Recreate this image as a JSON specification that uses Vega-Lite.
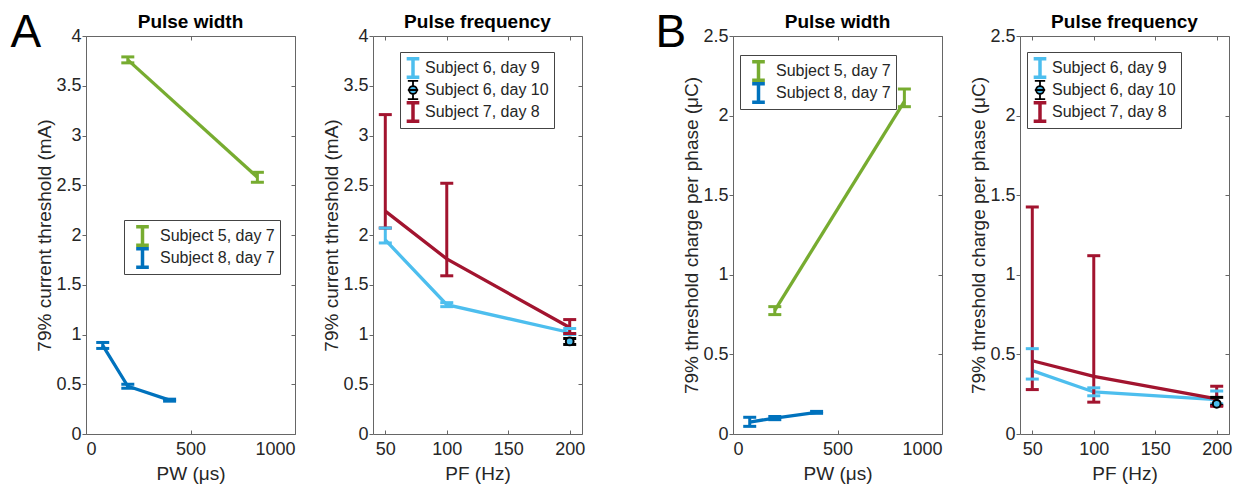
{
  "$schema": "https://vega.github.io/schema/vega-lite/v6.json",
  "padding": {"left": 10, "top": 10, "right": 5, "bottom": 5},
  "config": {
    "font": "Liberation Sans",
    "view": {"stroke": null},
    "axis": {"labelFont": "Liberation Sans", "labelFontSize": 18, "labelColor": "#262626", "titleFont": "Liberation Sans", "titleFontSize": 19, "titleFontWeight": "normal", "titleColor": "#262626", "domainColor": "#666", "tickColor": "#666", "grid": false},
    "title": {"font": "Liberation Sans", "fontSize": 19, "fontWeight": "bold", "color": "#000", "frame": "group", "offset": -5, "baseline": "alphabetic"},
    "legend": {"labelFont": "Liberation Sans", "labelFontSize": 16, "labelColor": "#262626", "symbolSize": 529, "symbolStrokeWidth": 3.5, "symbolOpacity": 1, "padding": 5, "rowPadding": 0, "clipHeight": 22, "strokeColor": "#444", "fillColor": "white", "labelOffset": 4, "symbolType": "M0,-0.8V0.8M-0.55,-0.8H0.55M-0.55,0.8H0.55"},
    "rule": {"opacity": 1},
    "line": {"opacity": 1},
    "point": {"opacity": 1}
  },
  "spacing": 70,
  "resolve": {"scale": {"color": "independent"}, "legend": {"color": "independent"}},
  "hconcat": [
    {
      "title": {"text": "A", "orient": "left", "angle": 0, "anchor": "end", "fontSize": 46, "fontWeight": "normal", "baseline": "alphabetic", "dy": 11, "offset": -36, "frame": "group"},
      "bounds": "flush",
      "spacing": 78,
      "resolve": {"scale": {"color": "independent"}, "legend": {"color": "independent"}},
      "hconcat": [
        {
          "width": 209, "height": 398,
          "title": {"text": "Pulse width"},
          "data": {"values": [
            {"x": 200, "y": 3.76, "lo": 3.73, "hi": 3.79, "series": "Subject 5, day 7"},
            {"x": 820, "y": 2.58, "lo": 2.53, "hi": 2.63, "series": "Subject 5, day 7"},
            {"x": 80, "y": 0.89, "lo": 0.86, "hi": 0.92, "series": "Subject 8, day 7"},
            {"x": 200, "y": 0.48, "lo": 0.46, "hi": 0.50, "series": "Subject 8, day 7"},
            {"x": 400, "y": 0.34, "lo": 0.33, "hi": 0.35, "series": "Subject 8, day 7"}
          ]},
          "resolve": {"axis": {"x": "independent", "y": "independent"}},
          "layer": [
            {"mark": {"type": "line", "strokeWidth": 3.3},
             "encoding": {
               "x": {"field": "x", "type": "quantitative", "scale": {"domain": [0, 1000], "nice": false}, "axis": {"values": [0, 500, 1000], "format": "d", "title": "PW (μs)", "tickSize": -4, "labelPadding": 10, "titlePadding": 6}},
               "y": {"field": "y", "type": "quantitative", "scale": {"domain": [0, 4], "nice": false}, "axis": {"values": [0, 0.5, 1, 1.5, 2, 2.5, 3, 3.5, 4], "format": "~g", "title": "79% current threshold (mA)", "tickSize": 4, "labelPadding": 1, "titlePadding": 1}},
               "color": {"field": "series", "type": "nominal", "scale": {"domain": ["Subject 5, day 7", "Subject 8, day 7"], "range": ["#77AC30", "#0072BD"]},
                 "legend": {"title": null, "orient": "none", "legendX": 38, "legendY": 184, "symbolSize": 529}}
             }},
            {"mark": {"type": "rule", "strokeWidth": 3},
             "encoding": {"x": {"field": "x", "type": "quantitative", "axis": null}, "y": {"field": "lo", "type": "quantitative", "axis": null}, "y2": {"field": "hi"}, "color": {"field": "series", "type": "nominal"}}},
            {"mark": {"type": "point", "shape": "M-1,0H1", "size": 169, "filled": false, "strokeWidth": 3},
             "encoding": {"x": {"field": "x", "type": "quantitative", "axis": null}, "y": {"field": "lo", "type": "quantitative", "axis": null}, "color": {"field": "series", "type": "nominal"}}},
            {"mark": {"type": "point", "shape": "M-1,0H1", "size": 169, "filled": false, "strokeWidth": 3},
             "encoding": {"x": {"field": "x", "type": "quantitative", "axis": null}, "y": {"field": "hi", "type": "quantitative", "axis": null}, "color": {"field": "series", "type": "nominal"}}},
            {"mark": {"type": "point", "opacity": 0},
             "encoding": {
               "x": {"field": "x", "type": "quantitative", "axis": {"orient": "top", "values": [0, 500, 1000], "labels": false, "title": null, "tickSize": -4}},
               "y": {"field": "y", "type": "quantitative", "axis": {"orient": "right", "values": [0, 0.5, 1, 1.5, 2, 2.5, 3, 3.5, 4], "labels": false, "title": null, "tickSize": -4}}
             }}
          ]
        },
        {
          "width": 209, "height": 398,
          "title": {"text": "Pulse frequency"},
          "data": {"values": [
            {"x": 50, "y": 1.95, "lo": 1.92, "hi": 2.07, "series": "Subject 6, day 9"},
            {"x": 100, "y": 1.30, "lo": 1.28, "hi": 1.32, "series": "Subject 6, day 9"},
            {"x": 200, "y": 1.02, "lo": 1.00, "hi": 1.06, "series": "Subject 6, day 9"},
            {"x": 200, "y": 0.93, "lo": 0.90, "hi": 0.96, "series": "Subject 6, day 10"},
            {"x": 50, "y": 2.24, "lo": 2.07, "hi": 3.21, "series": "Subject 7, day 8"},
            {"x": 100, "y": 1.76, "lo": 1.59, "hi": 2.52, "series": "Subject 7, day 8"},
            {"x": 200, "y": 1.07, "lo": 1.01, "hi": 1.15, "series": "Subject 7, day 8"}
          ]},
          "resolve": {"axis": {"x": "independent", "y": "independent"}},
          "layer": [
            {"mark": {"type": "line", "strokeWidth": 3.3},
             "encoding": {
               "x": {"field": "x", "type": "quantitative", "scale": {"domain": [40, 210], "nice": false}, "axis": {"values": [50, 100, 150, 200], "format": "d", "title": "PF (Hz)", "tickSize": -4, "labelPadding": 10, "titlePadding": 6}},
               "y": {"field": "y", "type": "quantitative", "scale": {"domain": [0, 4], "nice": false}, "axis": {"values": [0, 0.5, 1, 1.5, 2, 2.5, 3, 3.5, 4], "format": "~g", "title": "79% current threshold (mA)", "tickSize": 4, "labelPadding": 1, "titlePadding": 1}},
               "color": {"field": "series", "type": "nominal", "scale": {"domain": ["Subject 6, day 9", "Subject 6, day 10", "Subject 7, day 8"], "range": ["#4DBEEE", "#000000", "#A2142F"]},
                 "legend": {"title": null, "orient": "none", "legendX": 27, "legendY": 16, "symbolSize": 529, "encode": {"symbols": {"update": {"shape": {"signal": "datum.value === 'Subject 6, day 10' ? 'M0,-0.8V-0.34M0,0.34V0.8M-0.45,-0.8H0.45M-0.45,0.8H0.45M-0.34,0A0.34,0.34 0 1,0 0.34,0A0.34,0.34 0 1,0 -0.34,0ZM-0.45,0H0.45' : 'M0,-0.8V0.8M-0.55,-0.8H0.55M-0.55,0.8H0.55'"}, "fill": {"signal": "datum.value === 'Subject 6, day 10' ? '#4DBEEE' : 'transparent'"}, "strokeWidth": {"signal": "datum.value === 'Subject 6, day 10' ? 1.8 : 3.5"}}}}}}
             }},
            {"mark": {"type": "rule", "strokeWidth": 3},
             "encoding": {"x": {"field": "x", "type": "quantitative", "axis": null}, "y": {"field": "lo", "type": "quantitative", "axis": null}, "y2": {"field": "hi"}, "color": {"field": "series", "type": "nominal"}}},
            {"mark": {"type": "point", "shape": "M-1,0H1", "size": 169, "filled": false, "strokeWidth": 3},
             "encoding": {"x": {"field": "x", "type": "quantitative", "axis": null}, "y": {"field": "lo", "type": "quantitative", "axis": null}, "color": {"field": "series", "type": "nominal"}}},
            {"mark": {"type": "point", "shape": "M-1,0H1", "size": 169, "filled": false, "strokeWidth": 3},
             "encoding": {"x": {"field": "x", "type": "quantitative", "axis": null}, "y": {"field": "hi", "type": "quantitative", "axis": null}, "color": {"field": "series", "type": "nominal"}}},
            {"transform": [{"filter": "datum.series === 'Subject 6, day 10'"}],
             "mark": {"type": "point", "shape": "circle", "filled": true, "fill": "#4DBEEE", "stroke": "#000", "strokeWidth": 2, "size": 60, "opacity": 1},
             "encoding": {"x": {"field": "x", "type": "quantitative", "axis": null}, "y": {"field": "y", "type": "quantitative", "axis": null}}},
            {"mark": {"type": "point", "opacity": 0},
             "encoding": {
               "x": {"field": "x", "type": "quantitative", "axis": {"orient": "top", "values": [50, 100, 150, 200], "labels": false, "title": null, "tickSize": -4}},
               "y": {"field": "y", "type": "quantitative", "axis": {"orient": "right", "values": [0, 0.5, 1, 1.5, 2, 2.5, 3, 3.5, 4], "labels": false, "title": null, "tickSize": -4}}
             }}
          ]
        }
      ]
    },
    {
      "title": {"text": "B", "orient": "left", "angle": 0, "anchor": "end", "fontSize": 46, "fontWeight": "normal", "baseline": "alphabetic", "dy": 11, "offset": -34, "frame": "group"},
      "bounds": "flush",
      "spacing": 78,
      "resolve": {"scale": {"color": "independent"}, "legend": {"color": "independent"}},
      "hconcat": [
        {
          "width": 209, "height": 398,
          "title": {"text": "Pulse width"},
          "data": {"values": [
            {"x": 200, "y": 0.777, "lo": 0.75, "hi": 0.80, "series": "Subject 5, day 7"},
            {"x": 820, "y": 2.09, "lo": 2.056, "hi": 2.167, "series": "Subject 5, day 7"},
            {"x": 80, "y": 0.075, "lo": 0.048, "hi": 0.105, "series": "Subject 8, day 7"},
            {"x": 200, "y": 0.10, "lo": 0.09, "hi": 0.11, "series": "Subject 8, day 7"},
            {"x": 400, "y": 0.136, "lo": 0.13, "hi": 0.142, "series": "Subject 8, day 7"}
          ]},
          "resolve": {"axis": {"x": "independent", "y": "independent"}},
          "layer": [
            {"mark": {"type": "line", "strokeWidth": 3.3},
             "encoding": {
               "x": {"field": "x", "type": "quantitative", "scale": {"domain": [0, 1000], "nice": false}, "axis": {"values": [0, 500, 1000], "format": "d", "title": "PW (μs)", "tickSize": -4, "labelPadding": 10, "titlePadding": 6}},
               "y": {"field": "y", "type": "quantitative", "scale": {"domain": [0, 2.5], "nice": false}, "axis": {"values": [0, 0.5, 1, 1.5, 2, 2.5], "format": "~g", "title": "79% threshold charge per phase (μC)", "tickSize": 4, "labelPadding": 1, "titlePadding": 1}},
               "color": {"field": "series", "type": "nominal", "scale": {"domain": ["Subject 5, day 7", "Subject 8, day 7"], "range": ["#77AC30", "#0072BD"]},
                 "legend": {"title": null, "orient": "none", "legendX": 7, "legendY": 19, "symbolSize": 529}}
             }},
            {"mark": {"type": "rule", "strokeWidth": 3},
             "encoding": {"x": {"field": "x", "type": "quantitative", "axis": null}, "y": {"field": "lo", "type": "quantitative", "axis": null}, "y2": {"field": "hi"}, "color": {"field": "series", "type": "nominal"}}},
            {"mark": {"type": "point", "shape": "M-1,0H1", "size": 169, "filled": false, "strokeWidth": 3},
             "encoding": {"x": {"field": "x", "type": "quantitative", "axis": null}, "y": {"field": "lo", "type": "quantitative", "axis": null}, "color": {"field": "series", "type": "nominal"}}},
            {"mark": {"type": "point", "shape": "M-1,0H1", "size": 169, "filled": false, "strokeWidth": 3},
             "encoding": {"x": {"field": "x", "type": "quantitative", "axis": null}, "y": {"field": "hi", "type": "quantitative", "axis": null}, "color": {"field": "series", "type": "nominal"}}},
            {"mark": {"type": "point", "opacity": 0},
             "encoding": {
               "x": {"field": "x", "type": "quantitative", "axis": {"orient": "top", "values": [0, 500, 1000], "labels": false, "title": null, "tickSize": -4}},
               "y": {"field": "y", "type": "quantitative", "axis": {"orient": "right", "values": [0, 0.5, 1, 1.5, 2, 2.5], "labels": false, "title": null, "tickSize": -4}}
             }}
          ]
        },
        {
          "width": 209, "height": 398,
          "title": {"text": "Pulse frequency"},
          "data": {"values": [
            {"x": 50, "y": 0.398, "lo": 0.345, "hi": 0.536, "series": "Subject 6, day 9"},
            {"x": 100, "y": 0.264, "lo": 0.24, "hi": 0.29, "series": "Subject 6, day 9"},
            {"x": 200, "y": 0.216, "lo": 0.19, "hi": 0.27, "series": "Subject 6, day 9"},
            {"x": 200, "y": 0.19, "lo": 0.18, "hi": 0.23, "series": "Subject 6, day 10"},
            {"x": 50, "y": 0.46, "lo": 0.279, "hi": 1.426, "series": "Subject 7, day 8"},
            {"x": 100, "y": 0.362, "lo": 0.2, "hi": 1.12, "series": "Subject 7, day 8"},
            {"x": 200, "y": 0.22, "lo": 0.174, "hi": 0.30, "series": "Subject 7, day 8"}
          ]},
          "resolve": {"axis": {"x": "independent", "y": "independent"}},
          "layer": [
            {"mark": {"type": "line", "strokeWidth": 3.3},
             "encoding": {
               "x": {"field": "x", "type": "quantitative", "scale": {"domain": [40, 210], "nice": false}, "axis": {"values": [50, 100, 150, 200], "format": "d", "title": "PF (Hz)", "tickSize": -4, "labelPadding": 10, "titlePadding": 6}},
               "y": {"field": "y", "type": "quantitative", "scale": {"domain": [0, 2.5], "nice": false}, "axis": {"values": [0, 0.5, 1, 1.5, 2, 2.5], "format": "~g", "title": "79% threshold charge per phase (μC)", "tickSize": 4, "labelPadding": 1, "titlePadding": 1}},
               "color": {"field": "series", "type": "nominal", "scale": {"domain": ["Subject 6, day 9", "Subject 6, day 10", "Subject 7, day 8"], "range": ["#4DBEEE", "#000000", "#A2142F"]},
                 "legend": {"title": null, "orient": "none", "legendX": 7, "legendY": 16, "symbolSize": 529, "encode": {"symbols": {"update": {"shape": {"signal": "datum.value === 'Subject 6, day 10' ? 'M0,-0.8V-0.34M0,0.34V0.8M-0.45,-0.8H0.45M-0.45,0.8H0.45M-0.34,0A0.34,0.34 0 1,0 0.34,0A0.34,0.34 0 1,0 -0.34,0ZM-0.45,0H0.45' : 'M0,-0.8V0.8M-0.55,-0.8H0.55M-0.55,0.8H0.55'"}, "fill": {"signal": "datum.value === 'Subject 6, day 10' ? '#4DBEEE' : 'transparent'"}, "strokeWidth": {"signal": "datum.value === 'Subject 6, day 10' ? 1.8 : 3.5"}}}}}}
             }},
            {"mark": {"type": "rule", "strokeWidth": 3},
             "encoding": {"x": {"field": "x", "type": "quantitative", "axis": null}, "y": {"field": "lo", "type": "quantitative", "axis": null}, "y2": {"field": "hi"}, "color": {"field": "series", "type": "nominal"}}},
            {"mark": {"type": "point", "shape": "M-1,0H1", "size": 169, "filled": false, "strokeWidth": 3},
             "encoding": {"x": {"field": "x", "type": "quantitative", "axis": null}, "y": {"field": "lo", "type": "quantitative", "axis": null}, "color": {"field": "series", "type": "nominal"}}},
            {"mark": {"type": "point", "shape": "M-1,0H1", "size": 169, "filled": false, "strokeWidth": 3},
             "encoding": {"x": {"field": "x", "type": "quantitative", "axis": null}, "y": {"field": "hi", "type": "quantitative", "axis": null}, "color": {"field": "series", "type": "nominal"}}},
            {"transform": [{"filter": "datum.series === 'Subject 6, day 10'"}],
             "mark": {"type": "point", "shape": "circle", "filled": true, "fill": "#4DBEEE", "stroke": "#000", "strokeWidth": 2, "size": 60, "opacity": 1},
             "encoding": {"x": {"field": "x", "type": "quantitative", "axis": null}, "y": {"field": "y", "type": "quantitative", "axis": null}}},
            {"mark": {"type": "point", "opacity": 0},
             "encoding": {
               "x": {"field": "x", "type": "quantitative", "axis": {"orient": "top", "values": [50, 100, 150, 200], "labels": false, "title": null, "tickSize": -4}},
               "y": {"field": "y", "type": "quantitative", "axis": {"orient": "right", "values": [0, 0.5, 1, 1.5, 2, 2.5], "labels": false, "title": null, "tickSize": -4}}
             }}
          ]
        }
      ]
    }
  ]
}
